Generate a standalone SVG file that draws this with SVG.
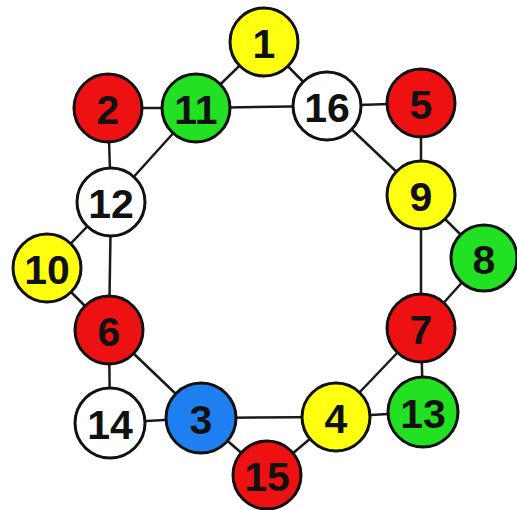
<svg xmlns="http://www.w3.org/2000/svg" width="517" height="510" viewBox="0 0 517 510">
<style>
.e{stroke:#1a1a1a;stroke-width:2.5;fill:none}
.n circle{stroke:#111;stroke-width:3}
.n text{font-family:"Liberation Sans",Arial,sans-serif;font-weight:bold;font-size:41px;fill:#111;text-anchor:middle;dominant-baseline:central}
.y{fill:#ffff10}.r{fill:#ee1111}.g{fill:#22e022}.b{fill:#1e80f0}.w{fill:#fff}
</style>
<rect width="517" height="510" fill="#fff"/>
<g id="edges">
<line class="e" x1="264" y1="42" x2="196" y2="108"/>
<line class="e" x1="264" y1="42" x2="327" y2="106"/>
<line class="e" x1="108" y1="108" x2="196" y2="108"/>
<line class="e" x1="196" y1="108" x2="327" y2="106"/>
<line class="e" x1="327" y1="106" x2="421" y2="103"/>
<line class="e" x1="327" y1="106" x2="421" y2="195"/>
<line class="e" x1="421" y1="103" x2="421" y2="195"/>
<line class="e" x1="108" y1="108" x2="111" y2="202"/>
<line class="e" x1="196" y1="108" x2="111" y2="202"/>
<line class="e" x1="111" y1="202" x2="47" y2="268"/>
<line class="e" x1="111" y1="202" x2="109" y2="330"/>
<line class="e" x1="421" y1="195" x2="484" y2="258"/>
<line class="e" x1="421" y1="195" x2="421" y2="328"/>
<line class="e" x1="47" y1="268" x2="109" y2="330"/>
<line class="e" x1="484" y1="258" x2="421" y2="328"/>
<line class="e" x1="109" y1="330" x2="110" y2="423"/>
<line class="e" x1="109" y1="330" x2="201" y2="418"/>
<line class="e" x1="421" y1="328" x2="423" y2="412"/>
<line class="e" x1="421" y1="328" x2="336" y2="417"/>
<line class="e" x1="110" y1="423" x2="201" y2="418"/>
<line class="e" x1="201" y1="418" x2="336" y2="417"/>
<line class="e" x1="201" y1="418" x2="267" y2="475"/>
<line class="e" x1="336" y1="417" x2="267" y2="475"/>
<line class="e" x1="336" y1="417" x2="423" y2="412"/>
</g>
<g id="n1" class="n"><circle class="y" cx="264" cy="42" r="34"/><text x="264" y="44">1</text></g>
<g id="n2" class="n"><circle class="r" cx="108" cy="108" r="34"/><text x="108" y="110">2</text></g>
<g id="n11" class="n"><circle class="g" cx="196" cy="108" r="34"/><text x="196" y="110">11</text></g>
<g id="n16" class="n"><circle class="w" cx="327" cy="106" r="34"/><text x="327" y="108">16</text></g>
<g id="n5" class="n"><circle class="r" cx="421" cy="103" r="34"/><text x="421" y="105">5</text></g>
<g id="n12" class="n"><circle class="w" cx="111" cy="202" r="34"/><text x="111" y="204">12</text></g>
<g id="n9" class="n"><circle class="y" cx="421" cy="195" r="34"/><text x="421" y="197">9</text></g>
<g id="n10" class="n"><circle class="y" cx="47" cy="268" r="34"/><text x="47" y="270">10</text></g>
<g id="n8" class="n"><circle class="g" cx="484" cy="258" r="33"/><text x="484" y="260">8</text></g>
<g id="n6" class="n"><circle class="r" cx="109" cy="330" r="34"/><text x="109" y="332">6</text></g>
<g id="n7" class="n"><circle class="r" cx="421" cy="328" r="34"/><text x="421" y="330">7</text></g>
<g id="n14" class="n"><circle class="w" cx="110" cy="423" r="35"/><text x="110" y="425">14</text></g>
<g id="n3" class="n"><circle class="b" cx="201" cy="418" r="35"/><text x="201" y="420">3</text></g>
<g id="n4" class="n"><circle class="y" cx="336" cy="417" r="34"/><text x="336" y="419">4</text></g>
<g id="n13" class="n"><circle class="g" cx="423" cy="412" r="35"/><text x="423" y="414">13</text></g>
<g id="n15" class="n"><circle class="r" cx="267" cy="475" r="34"/><text x="267" y="477">15</text></g>
</svg>
